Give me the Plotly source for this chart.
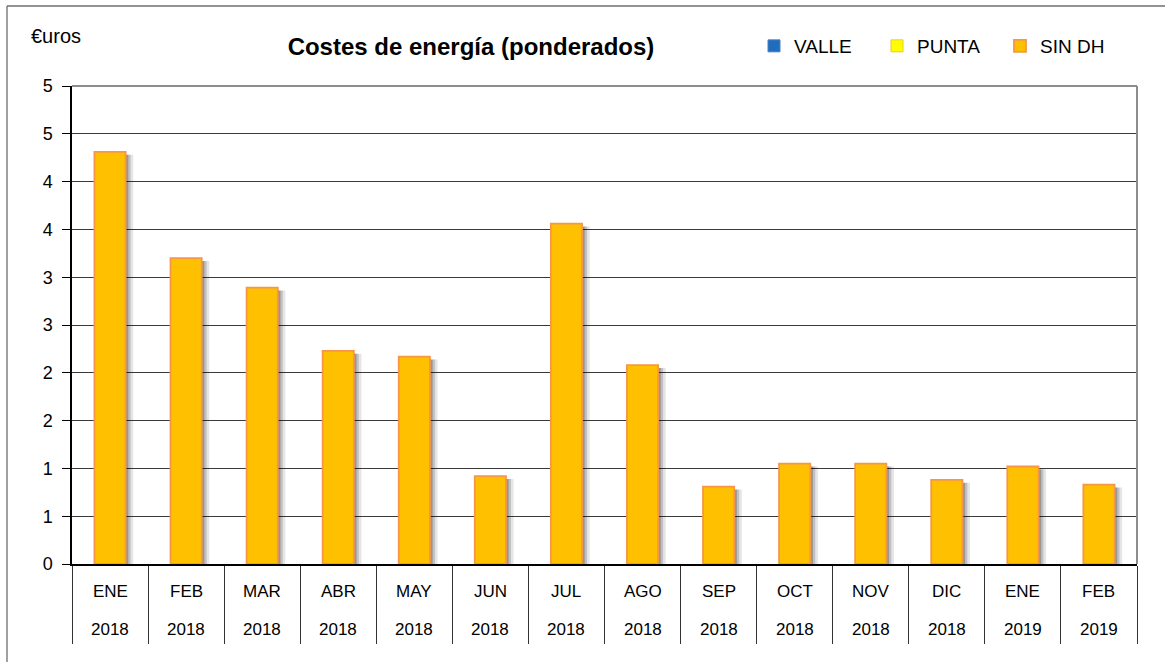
import plotly.graph_objects as go

# ---- data ----
months = ["ENE", "FEB", "MAR", "ABR", "MAY", "JUN", "JUL", "AGO", "SEP", "OCT", "NOV", "DIC", "ENE", "FEB"]
years = ["2018", "2018", "2018", "2018", "2018", "2018", "2018", "2018", "2018", "2018", "2018", "2018", "2019", "2019"]
sin_dh = [4.31, 3.20, 2.89, 2.23, 2.17, 0.92, 3.56, 2.08, 0.81, 1.05, 1.05, 0.88, 1.02, 0.83]
valle = [None, None, None, None, None, None, None, None, None, None, None, None, None, None]
punta = [None, None, None, None, None, None, None, None, None, None, None, None, None, None]
y_tickvals = [0, 0.5, 1, 1.5, 2, 2.5, 3, 3.5, 4, 4.5, 5]
y_ticktext = ["0", "1", "1", "2", "2", "3", "3", "4", "4", "5", "5"]

cats = [f"{m} {y}" for m, y in zip(months, years)]

FONT = "Liberation Sans, Arial, sans-serif"
W, H = 1165, 662
ML, MR, MT, MB = 72, 28, 86, 98
PW = W - ML - MR
PH = H - MT - MB


def px_x(p):
    return (p - ML) / PW


def px_y(p):
    return (H - MB - p) / PH


BW = 0.41

fig = go.Figure()

# soft shadows behind bars
fig.add_trace(go.Bar(x=cats, y=[v - 0.03 for v in sin_dh], width=BW, offset=-BW / 2 + 0.10,
                     marker=dict(color="rgba(0,0,0,0.10)", line=dict(width=0)),
                     showlegend=False, hoverinfo="skip"))
fig.add_trace(go.Bar(x=cats, y=[v - 0.03 for v in sin_dh], width=BW, offset=-BW / 2 + 0.065,
                     marker=dict(color="rgba(0,0,0,0.16)", line=dict(width=0)),
                     showlegend=False, hoverinfo="skip"))
fig.add_trace(go.Bar(x=cats, y=[v - 0.03 for v in sin_dh], width=BW, offset=-BW / 2 + 0.035,
                     marker=dict(color="rgba(0,0,0,0.22)", line=dict(width=0)),
                     showlegend=False, hoverinfo="skip"))

fig.add_trace(go.Bar(name="VALLE", x=cats, y=valle, width=BW, offset=-BW / 2,
                     marker=dict(color="#1F6DBF", line=dict(color="#4F81BD", width=1))))
fig.add_trace(go.Bar(name="PUNTA", x=cats, y=punta, width=BW, offset=-BW / 2,
                     marker=dict(color="#FFFF00", line=dict(color="#F4C430", width=1))))
fig.add_trace(go.Bar(name="SIN DH", x=cats, y=sin_dh, width=BW, offset=-BW / 2,
                     marker=dict(color="#FFC000", line=dict(color="#F79646", width=1.8))))

annotations = []
for c, m, y in zip(cats, months, years):
    annotations.append(dict(x=c, y=px_y(591), xref="x", yref="paper", text=m, showarrow=False,
                            font=dict(family=FONT, size=17, color="#000"), yanchor="middle"))
    annotations.append(dict(x=c, y=px_y(629), xref="x", yref="paper", text=y, showarrow=False,
                            font=dict(family=FONT, size=17, color="#000"), yanchor="middle"))
annotations.append(dict(x=px_x(29), y=px_y(36), xref="paper", yref="paper", text="€uros",
                        showarrow=False, xanchor="left", yanchor="middle",
                        font=dict(family=FONT, size=20, color="#000")))

shapes = [
    # outer chart border (cropped on right/bottom)
    dict(type="line", xref="paper", yref="paper", x0=px_x(7), x1=px_x(1400), y0=px_y(6), y1=px_y(6),
         line=dict(color="#6e6e6e", width=1.3), layer="below"),
    dict(type="line", xref="paper", yref="paper", x0=px_x(7), x1=px_x(7), y0=px_y(6), y1=px_y(900),
         line=dict(color="#6e6e6e", width=1.3), layer="below"),
    # plot area top and right edges (grey)
    dict(type="line", xref="paper", yref="paper", x0=0, x1=1, y0=1, y1=1,
         line=dict(color="#8c8c8c", width=2), layer="above"),
    dict(type="line", xref="paper", yref="paper", x0=1, x1=1, y0=0, y1=1,
         line=dict(color="#8c8c8c", width=2), layer="above"),
]

fig.update_layout(
    width=W, height=H,
    margin=dict(l=ML, r=MR, t=MT, b=MB),
    paper_bgcolor="white", plot_bgcolor="white",
    barmode="overlay",
    font=dict(family=FONT, color="#000"),
    title=dict(text="<b>Costes de energía (ponderados)</b>", x=px_x(471), xref="paper", xanchor="center",
               y=1 - 47 / H, yref="container", yanchor="middle",
               font=dict(family=FONT, size=24, color="#000")),
    legend=dict(orientation="h", x=px_x(754), y=px_y(46), xanchor="left", yanchor="middle",
                font=dict(family=FONT, size=19, color="#000"), bgcolor="rgba(0,0,0,0)",
                entrywidth=78, entrywidthmode="pixels", traceorder="normal"),
    xaxis=dict(type="category", categoryorder="array", categoryarray=cats, range=[-0.5, len(cats) - 0.5],
               showticklabels=False, ticks="outside", tickson="boundaries", ticklen=78,
               tickcolor="#333", tickwidth=1.3, showline=True, linecolor="#000", linewidth=1.5,
               showgrid=False, zeroline=False, fixedrange=True),
    yaxis=dict(range=[0, 5], tickvals=y_tickvals, ticktext=y_ticktext, ticks="outside", ticklen=8,
               tickcolor="#000", showline=True, linecolor="#000", linewidth=1.5,
               showgrid=True, gridcolor="#3a3a3a", gridwidth=1, zeroline=False,
               tickfont=dict(family=FONT, size=18, color="#000"), ticklabelstandoff=6, fixedrange=True),
    annotations=annotations,
    shapes=shapes,
    showlegend=True,
)

fig.write_html("out.html", config={"displayModeBar": False},
               post_script="document.body.style.margin='0';document.body.style.overflow='hidden';")
